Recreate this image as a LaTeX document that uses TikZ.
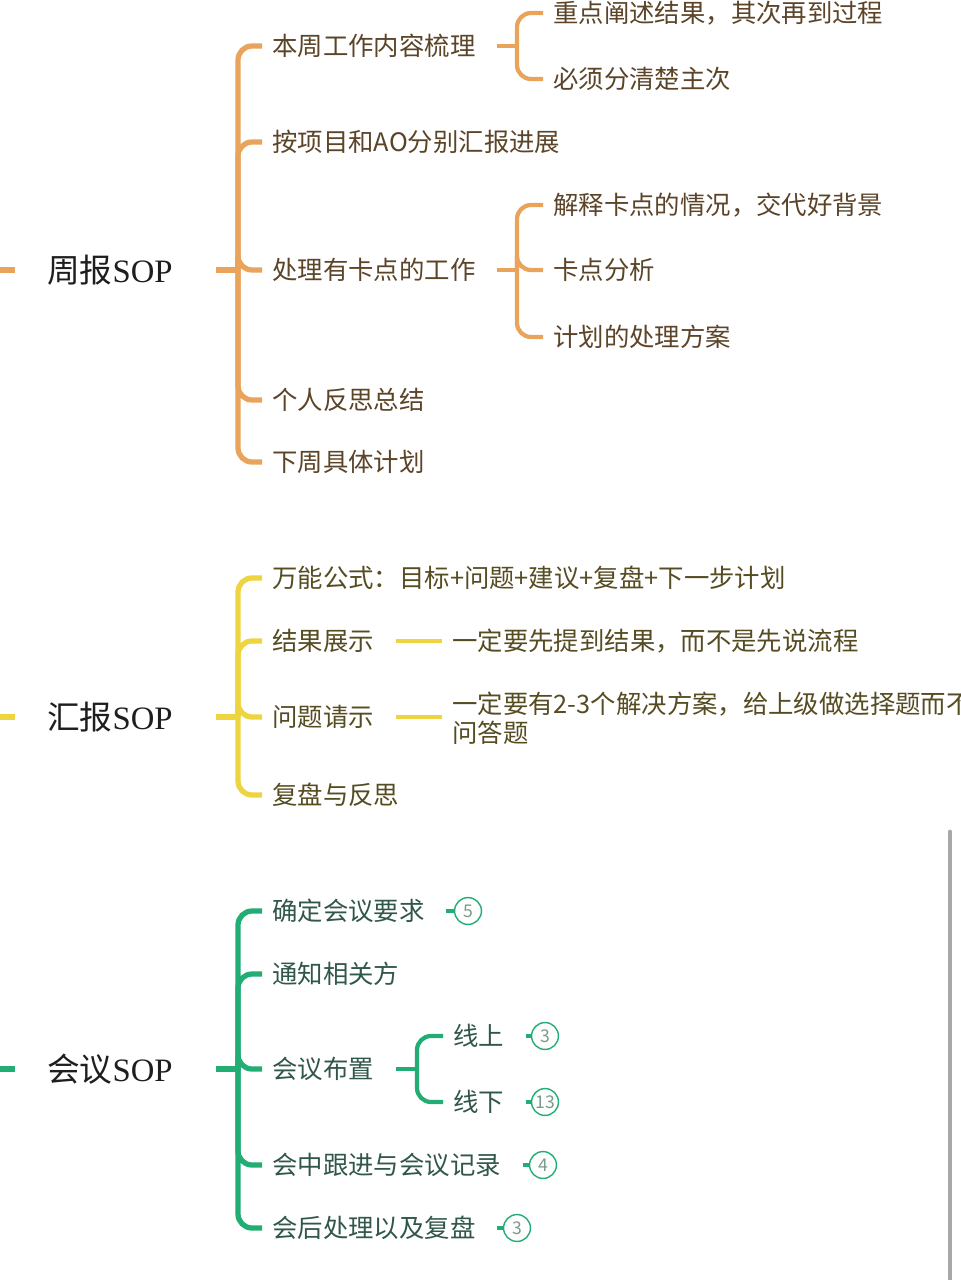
\documentclass[tikz,border=0pt]{standalone}
\usepackage{fontspec}
\setmainfont{Noto Sans CJK SC}
\newfontfamily\sopfont{Liberation Serif}
\definecolor{orline}{HTML}{E9A35B}
\definecolor{ortext}{HTML}{5B4428}
\definecolor{yeline}{HTML}{EED43F}
\definecolor{yetext}{HTML}{564C22}
\definecolor{grline}{HTML}{22AD74}
\definecolor{grtext}{HTML}{31574A}
\definecolor{badgetext}{HTML}{7A9A8C}
\definecolor{titletext}{HTML}{1E1E1E}
\definecolor{scrollgray}{HTML}{A8A8A8}

\begin{document}
\begin{tikzpicture}
        [x=0.02cm, y=-0.02cm,
        sop/.style={anchor=west, inner xsep=5.67pt, inner ysep=0pt, text=titletext, font=\fontsize{18.6}{21}\selectfont},
        leaf/.style={anchor=west, inner xsep=5.67pt, inner ysep=0pt, align=left, font=\fontsize{14.45}{16.5}\selectfont},
        trunk/.style={line width=3pt, rounded corners=8pt},
        twig/.style={line width=2.4pt, rounded corners=8pt},
        fromsop/.style={shorten <=19pt},
        fromleaf/.style={shorten <=6.5pt},
        badge/.style={draw=grline, line width=0.8pt, circle, minimum size=15.3pt, inner sep=0pt, text=badgetext, font=\fontsize{10}{10}\selectfont}]

        \fill[white] (0,0) rectangle (960,1280);
        \useasboundingbox (0,0) rectangle (960,1280);

        \node[sop] (w0) at (37, 270) {周报{\sopfont SOP}};
        \node[leaf, text=ortext] (w1) at (262, 46) {本周工作内容梳理};
        \node[leaf, text=ortext] (w2) at (262, 142) {按项目和AO分别汇报进展};
        \node[leaf, text=ortext] (w3) at (262, 270) {处理有卡点的工作};
        \node[leaf, text=ortext] (w4) at (262, 400) {个人反思总结};
        \node[leaf, text=ortext] (w5) at (262, 462) {下周具体计划};
        \node[leaf, text=ortext] (w11) at (543, 13) {重点阐述结果，其次再到过程};
        \node[leaf, text=ortext] (w12) at (543, 79) {必须分清楚主次};
        \node[leaf, text=ortext] (w31) at (543, 205) {解释卡点的情况，交代好背景};
        \node[leaf, text=ortext] (w32) at (543, 270) {卡点分析};
        \node[leaf, text=ortext] (w33) at (543, 337) {计划的处理方案};
        \coordinate (wroot) at (-30, 270);
        \coordinate (w0j) at (238, 270);
        \coordinate (w1j) at (517, 46);
        \coordinate (w3j) at (517, 270);

        \node[sop] (h0) at (37, 717) {汇报{\sopfont SOP}};
        \node[leaf, text=yetext] (h1) at (262, 578) {万能公式：目标+问题+建议+复盘+下一步计划};
        \node[leaf, text=yetext] (h2) at (262, 641) {结果展示};
        \node[leaf, text=yetext] (h3) at (262, 717) {问题请示};
        \node[leaf, text=yetext] (h4) at (262, 795) {复盘与反思};
        \node[leaf, text=yetext] (h21) at (442, 641) {一定要先提到结果，而不是先说流程};
        \node[leaf, text=yetext] (h31) at (442, 718) {一定要有2-3个解决方案，给上级做选择题而不\\问答题};
        \coordinate (hroot) at (-30, 717);
        \coordinate (h0j) at (238, 717);

        \node[sop] (m0) at (37, 1069) {会议{\sopfont SOP}};
        \node[leaf, text=grtext] (m1) at (262, 911) {确定会议要求};
        \node[leaf, text=grtext] (m2) at (262, 974) {通知相关方};
        \node[leaf, text=grtext] (m3) at (262, 1069) {会议布置};
        \node[leaf, text=grtext] (m4) at (262, 1165) {会中跟进与会议记录};
        \node[leaf, text=grtext] (m5) at (262, 1228) {会后处理以及复盘};
        \node[leaf, text=grtext] (m31) at (443, 1036) {线上};
        \node[leaf, text=grtext] (m32) at (443, 1102) {线下};
        \node[badge] (b1) at (468, 911) {5};
        \node[badge] (b31) at (545, 1036) {3};
        \node[badge] (b32) at (545, 1102) {13};
        \node[badge] (b4) at (543, 1165) {4};
        \node[badge] (b5) at (517, 1228) {3};
        \coordinate (mroot) at (-30, 1069);
        \coordinate (m0j) at (238, 1069);
        \coordinate (m3j) at (417, 1069);

        \draw[trunk, orline, shorten >=12.5pt] (wroot) -- (w0);
        \draw[trunk, orline, fromsop] (w0) -- (w0j);
        \draw[trunk, orline] (w0j) |- (w1);
        \draw[trunk, orline] (w0j) |- (w2);
        \draw[trunk, orline] (w0j) |- (w3);
        \draw[trunk, orline] (w0j) |- (w4);
        \draw[trunk, orline] (w0j) |- (w5);
        \draw[twig, orline, fromleaf] (w1) -- (w1j);
        \draw[twig, orline] (w1j) |- (w11);
        \draw[twig, orline] (w1j) |- (w12);
        \draw[twig, orline, fromleaf] (w3) -- (w3j);
        \draw[twig, orline] (w3j) |- (w31);
        \draw[twig, orline] (w3j) |- (w32);
        \draw[twig, orline] (w3j) |- (w33);

        \draw[trunk, yeline, shorten >=12.5pt] (hroot) -- (h0);
        \draw[trunk, yeline, fromsop] (h0) -- (h0j);
        \draw[trunk, yeline] (h0j) |- (h1);
        \draw[trunk, yeline] (h0j) |- (h2);
        \draw[trunk, yeline] (h0j) |- (h3);
        \draw[trunk, yeline] (h0j) |- (h4);
        \draw[twig, yeline, fromleaf] (h2) -- (h21);
        \draw[twig, yeline, fromleaf] (h3) -- (h3 -| h31.west);

        \draw[trunk, grline, shorten >=12.5pt] (mroot) -- (m0);
        \draw[trunk, grline, fromsop] (m0) -- (m0j);
        \draw[trunk, grline] (m0j) |- (m1);
        \draw[trunk, grline] (m0j) |- (m2);
        \draw[trunk, grline] (m0j) |- (m3);
        \draw[trunk, grline] (m0j) |- (m4);
        \draw[trunk, grline] (m0j) |- (m5);
        \draw[twig, grline, fromleaf] (m3) -- (m3j);
        \draw[twig, grline] (m3j) |- (m31);
        \draw[twig, grline] (m3j) |- (m32);
        \draw[twig, grline, fromleaf] (m1) -- (b1);
        \draw[twig, grline, fromleaf] (m31) -- (b31);
        \draw[twig, grline, fromleaf] (m32) -- (b32);
        \draw[twig, grline, fromleaf] (m4) -- (b4);
        \draw[twig, grline, fromleaf] (m5) -- (b5);

        \draw[scrollgray, line width=2.8pt, line cap=round] (950, 832) -- (950, 1300);
      \end{tikzpicture}
\end{document}
